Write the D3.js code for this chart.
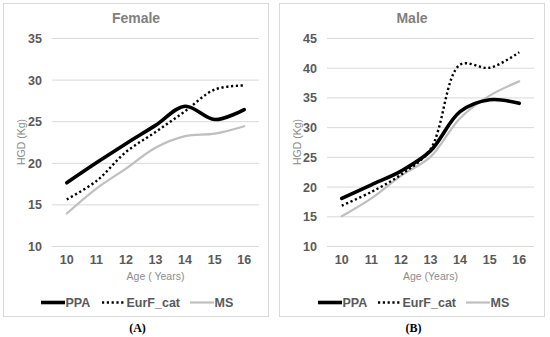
<!DOCTYPE html>
<html><head><meta charset="utf-8">
<script src="https://cdn.jsdelivr.net/npm/d3@7"></script>
<style>body{margin:0;background:#fff}svg{display:block}</style>
</head><body>
<svg id="c" width="550" height="337"></svg>
<script>
const ages = ["10","11","12","13","14","15","16"];
const femalePPA = [17.6, 20.0, 22.3, 24.5, 26.8, 25.2, 26.4];
const femaleEurF = [15.6, 17.8, 21.3, 23.7, 26.2, 28.8, 29.3];
const femaleMS = [13.9, 16.9, 19.3, 21.8, 23.2, 23.5, 24.4];
const malePPA = [18.0, 20.3, 22.6, 26.0, 32.6, 34.6, 34.0];
const maleEurF = [16.8, 19.1, 22.0, 26.3, 40.5, 40.0, 42.6];
const maleMS = [15.0, 18.0, 21.8, 25.0, 31.5, 35.3, 37.7];
const femaleTicks = [10, 15, 20, 25, 30, 35];
const maleTicks = [10, 15, 20, 25, 30, 35, 40, 45];
const seriesNames = ["PPA", "EurF_cat", "MS"];

const styles = {
  PPA: {stroke: "#000", width: 3.6, dash: null},
  EurF_cat: {stroke: "#000", width: 2.4, dash: "2.2,2.6"},
  MS: {stroke: "#bfbfbf", width: 2.2, dash: null}
};

const svg = d3.select("#c");
const font = "Arial, 'Liberation Sans', sans-serif";

function panel(cfg) {
  const g = svg.append("g");
  g.append("rect").attr("x", cfg.bx + 0.5).attr("y", 3.5).attr("width", cfg.bw).attr("height", 313)
    .attr("fill", "#fff").attr("stroke", "#d9d9d9").attr("stroke-width", 1);
  const x = d3.scaleBand().domain(ages).range([cfg.px0, cfg.px1]);
  const y = d3.scaleLinear().domain([cfg.ticks[0], cfg.ticks[cfg.ticks.length - 1]]).range([246, 38]);
  const ya = d3.axisLeft(y).tickValues(cfg.ticks).tickSize(-(cfg.px1 - cfg.px0)).tickPadding(10);
  const yg = g.append("g").attr("transform", `translate(${cfg.px0},0)`).call(ya);
  yg.select(".domain").remove();
  yg.selectAll(".tick line").attr("stroke", "#d9d9d9").attr("stroke-width", 1);
  yg.selectAll(".tick text").attr("fill", "#595959").attr("font-family", font)
    .attr("font-size", 12.5).attr("font-weight", "bold").attr("dy", "0.36em");
  const xa = d3.axisBottom(x).tickSize(0).tickPadding(9);
  const xg = g.append("g").attr("transform", "translate(0,246)").call(xa);
  xg.select(".domain").remove();
  xg.selectAll(".tick text").attr("fill", "#595959").attr("font-family", font)
    .attr("font-size", 12.5).attr("font-weight", "bold");
  const line = d3.line().x((d, i) => x(ages[i]) + x.bandwidth() / 2).y(d => y(d)).curve(d3.curveCatmullRom.alpha(0.5));
  [["MS", cfg.ms], ["EurF_cat", cfg.eur], ["PPA", cfg.ppa]].forEach(([n, vals]) => {
    const s = styles[n];
    g.append("path").datum(vals).attr("d", line).attr("fill", "none")
      .attr("stroke", s.stroke).attr("stroke-width", s.width)
      .attr("stroke-dasharray", s.dash).attr("stroke-linecap", s.dash ? "butt" : "round");
  });
  g.append("text").attr("x", cfg.bx + cfg.bw / 2 + 0.5).attr("y", 23).attr("text-anchor", "middle")
    .attr("font-family", font).attr("font-size", 14).attr("font-weight", "bold").attr("fill", "#808080").text(cfg.title);
  g.append("text").attr("transform", `translate(${cfg.bx + 21.5},${142}) rotate(-90)`).attr("text-anchor", "middle")
    .attr("font-family", font).attr("font-size", 10.5).attr("fill", "#8c8c8c").text("HGD (Kg)");
  g.append("text").attr("x", (cfg.px0 + cfg.px1) / 2).attr("y", 280).attr("text-anchor", "middle")
    .attr("font-family", font).attr("font-size", 10.5).attr("fill", "#8c8c8c").text(cfg.xlabel);
  cfg.leg.forEach((lx, i) => {
    const n = seriesNames[i], s = styles[n];
    g.append("line").attr("x1", lx).attr("x2", lx + 24).attr("y1", 302.5).attr("y2", 302.5)
      .attr("stroke", s.stroke).attr("stroke-width", s.width).attr("stroke-dasharray", s.dash);
    g.append("text").attr("x", lx + 24.5).attr("y", 307).attr("font-family", font).attr("font-size", 12.5)
      .attr("font-weight", "bold").attr("fill", "#595959").text(n);
  });
  g.append("text").attr("x", cfg.bx + cfg.bw / 2 + 2).attr("y", 332).attr("text-anchor", "middle")
    .attr("font-family", "'Liberation Serif', 'Times New Roman', serif").attr("font-size", 12)
    .attr("font-weight", "bold").attr("fill", "#000").text(cfg.label);
}

panel({bx: 3, bw: 265, px0: 52, px1: 259, ticks: femaleTicks, ppa: femalePPA, eur: femaleEurF, ms: femaleMS,
  title: "Female", xlabel: "Age ( Years)", leg: [41, 102, 190], label: "(A)"});
panel({bx: 279, bw: 265, px0: 327, px1: 534, ticks: maleTicks, ppa: malePPA, eur: maleEurF, ms: maleMS,
  title: "Male", xlabel: "Age (Years)", leg: [318, 378, 466], label: "(B)"});
</script>
</body></html>
